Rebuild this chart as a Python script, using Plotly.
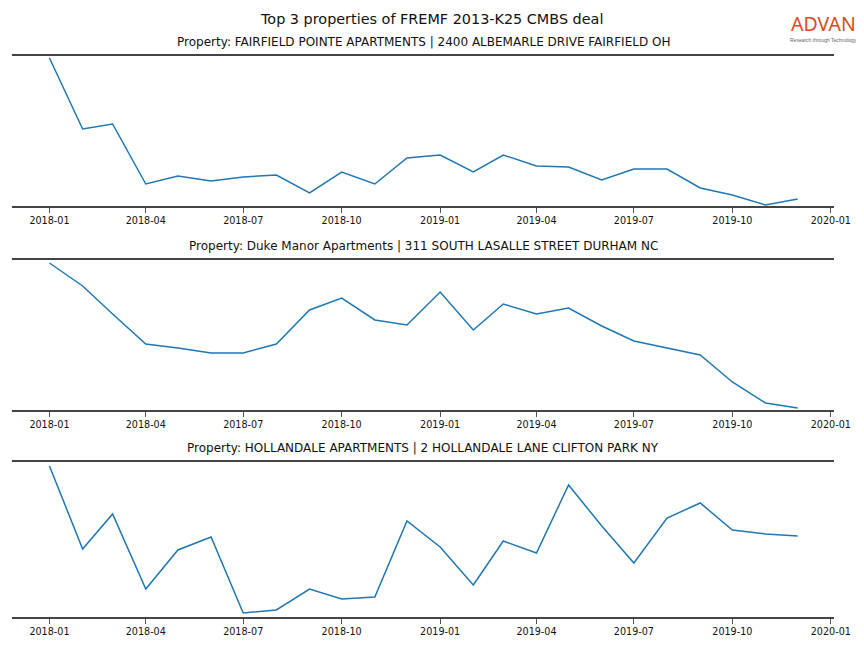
import plotly.graph_objects as go
import pandas as pd

months = pd.date_range("2018-01-01", "2019-12-01", freq="MS")

titles = [
    "Property: FAIRFIELD POINTE APARTMENTS | 2400 ALBEMARLE DRIVE FAIRFIELD OH",
    "Property: Duke Manor Apartments | 311 SOUTH LASALLE STREET DURHAM NC",
    "Property: HOLLANDALE APARTMENTS | 2 HOLLANDALE LANE CLIFTON PARK NY",
]

fairfield = [148, 77, 82, 22, 30, 25, 29, 31, 13, 34, 22, 48,
             51, 34, 51, 40, 39, 26, 37, 37, 18, 11, 1, 7]
duke = [147, 124, 96, 66, 62, 57, 57, 66, 100, 112, 90, 85,
        118, 80, 106, 96, 102, 84, 69, 62, 55, 28, 7, 2]
hollandale = [151, 68, 103, 28, 67, 80, 4, 7, 28, 18, 20, 96,
              70, 32, 76, 64, 132, 91, 54, 99, 114, 87, 83, 81]

series = [fairfield, duke, hollandale]
y_ranges = [[0, 150], [0, 150], [0, 155]]

# page offset of the figure and effective rendered width
OX, OY = 8, 8
W, H = 864, 636
RW = 848  # rendered horizontal extent of the figure


def px(x):
    return (x - OX) / RW


def py(y):
    return 1 - (y - OY) / H


frames = [(56, 206), (260, 410), (462, 617)]
x_left, x_right = 12, 835

fig = go.Figure()
FONT = "DejaVu Sans"
SPINE = "#444444"

for i, (vals, (top, bot)) in enumerate(zip(series, frames)):
    n = i + 1
    xa = "x" if n == 1 else f"x{n}"
    ya = "y" if n == 1 else f"y{n}"
    fig.add_trace(go.Scatter(x=months, y=vals, mode="lines",
                             line=dict(color="#1f77b4", width=1.5),
                             xaxis=xa, yaxis=ya, showlegend=False))
    xkey = "xaxis" if n == 1 else f"xaxis{n}"
    ykey = "yaxis" if n == 1 else f"yaxis{n}"
    fig.update_layout(**{
        xkey: dict(
            domain=[px(x_left), px(x_right)],
            anchor=ya,
            range=["2017-11-27", "2020-01-04"],
            tickvals=pd.date_range("2018-01-01", "2020-01-01", freq="3MS"),
            tickformat="%Y-%m",
            ticks="outside", ticklen=5, tickwidth=1, tickcolor="#555555",
            showgrid=False, zeroline=False,
            showline=True, linecolor=SPINE, linewidth=1.8, mirror=True,
            tickfont=dict(family=FONT, size=9.6, color="#111111"),
        ),
        ykey: dict(
            domain=[py(bot), py(top)],
            anchor=xa,
            range=y_ranges[i],
            showticklabels=False, showgrid=False, zeroline=False,
            showline=False, ticks="",
        ),
    })
    fig.add_annotation(text=titles[i], xref="paper", yref="paper",
                       x=px((x_left + x_right) / 2), y=py(top - 14),
                       showarrow=False, xanchor="center", yanchor="middle",
                       font=dict(family=FONT, size=12, color="#111111"))

fig.add_annotation(text="Top 3 properties of FREMF 2013-K25 CMBS deal",
                   xref="paper", yref="paper", x=px(432), y=py(19),
                   showarrow=False, xanchor="center", yanchor="middle",
                   font=dict(family=FONT, size=14.4, color="#111111"))

# logo
fig.add_annotation(text="ADVAN", xref="paper", yref="paper",
                   x=px(824.5), y=py(37.5), showarrow=False,
                   xanchor="center", yanchor="bottom", borderpad=0,
                   font=dict(family="Noto Sans", size=19.5, color="#E04A22"))
fig.add_annotation(text="Research through Technology", xref="paper", yref="paper",
                   x=px(824.5), y=py(36.5), showarrow=False,
                   xanchor="center", yanchor="top", borderpad=0,
                   font=dict(family="Liberation Sans", size=5, color="#666666"))

fig.update_layout(width=W, height=H, margin=dict(l=0, r=0, t=0, b=0),
                  paper_bgcolor="white", plot_bgcolor="white")

fig.write_html("out.html")
